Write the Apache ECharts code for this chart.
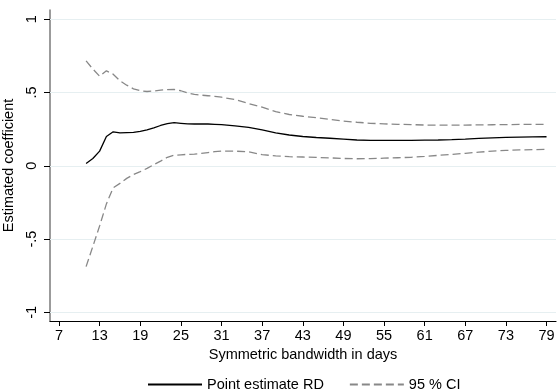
<!DOCTYPE html>
<html>
<head>
<meta charset="utf-8">
<script src="https://cdn.jsdelivr.net/npm/echarts@6/dist/echarts.min.js"></script>
<style>
  html, body { margin: 0; padding: 0; background: #fff; }
  #chart { width: 557px; height: 392px; }
</style>
</head>
<body>
<div id="chart"></div>
<script>
// Bandwidth (days) at which each estimate is shown
const bandwidth = [11, 12, 13, 14, 15, 16, 17, 18, 19, 20, 21, 22, 23, 24, 25, 26, 27, 28, 29, 30,
  31, 33, 35, 37, 39, 41, 43, 45, 47, 49, 51, 53, 55, 57, 59, 61, 63, 65, 67, 69, 71, 73, 75, 77, 79];

// RD point estimate
const pointEstimate = [0.016, 0.05, 0.10, 0.20, 0.232, 0.224, 0.226, 0.228, 0.235, 0.245, 0.258, 0.275, 0.288, 0.294, 0.290, 0.286, 0.285, 0.286, 0.285, 0.283,
  0.281, 0.272, 0.262, 0.245, 0.225, 0.210, 0.200, 0.193, 0.188, 0.182, 0.176, 0.174, 0.174, 0.174, 0.174, 0.175, 0.176, 0.178, 0.182, 0.187, 0.191, 0.194, 0.196, 0.197, 0.198];

// 95 % confidence interval bounds
const ciUpper = [0.716, 0.66, 0.611, 0.648, 0.625, 0.58, 0.55, 0.525, 0.512, 0.507, 0.51, 0.516, 0.52, 0.521, 0.512, 0.497, 0.488, 0.482, 0.478, 0.474,
  0.468, 0.452, 0.425, 0.40, 0.37, 0.35, 0.338, 0.328, 0.316, 0.305, 0.297, 0.29, 0.286, 0.283, 0.281, 0.278, 0.277, 0.277, 0.278, 0.279, 0.28, 0.281, 0.282, 0.282, 0.282];
const ciLower = [-0.688, -0.55, -0.41, -0.26, -0.15, -0.12, -0.086, -0.06, -0.04, -0.018, 0.008, 0.032, 0.058, 0.072, 0.075, 0.078, 0.08, 0.084, 0.09, 0.096,
  0.10, 0.10, 0.095, 0.076, 0.068, 0.062, 0.06, 0.057, 0.054, 0.05, 0.048, 0.049, 0.052, 0.055, 0.058, 0.064, 0.071, 0.078, 0.085, 0.093, 0.10, 0.105, 0.108, 0.11, 0.112];

// Axis tick labels
const xTicks = [7, 13, 19, 25, 31, 37, 43, 49, 55, 61, 67, 73, 79];
const yTicks = [-1, -0.5, 0, 0.5, 1];

const pairs = (ys) => bandwidth.map((x, i) => [x, ys[i]]);
const fmtY = (v) => {
  if (v === 0) return '0';
  const s = String(v);
  return s.replace(/^(-?)0\./, '$1.');
};

const FONT = '"Liberation Sans", Arial, sans-serif';
const chart = echarts.init(document.getElementById('chart'), null, { renderer: 'canvas' });

chart.setOption({
  animation: false,
  backgroundColor: '#ffffff',
  textStyle: { fontFamily: FONT },
  grid: { left: 50, right: 1, top: 10, bottom: 71, containLabel: false, outerBoundsMode: 'none' },
  xAxis: {
    type: 'value',
    min: 5.67,
    max: 80.4,
    name: 'Symmetric bandwidth in days',
    nameLocation: 'middle',
    nameGap: 17,
    nameTextStyle: { fontFamily: FONT, fontSize: 14.5, color: '#000', verticalAlign: 'top' },
    axisLine: { show: true, onZero: false, lineStyle: { color: '#000', width: 1.2 } },
    axisTick: { show: true, length: 5, customValues: xTicks, lineStyle: { color: '#000', width: 1 } },
    axisLabel: { customValues: xTicks, fontFamily: FONT, fontSize: 14.5, color: '#000', margin: 7 },
    splitLine: { show: false }
  },
  yAxis: {
    type: 'value',
    min: -1.059,
    max: 1.063,
    name: 'Estimated coefficient',
    nameLocation: 'middle',
    nameGap: 26,
    nameTextStyle: { fontFamily: FONT, fontSize: 14.5, color: '#000' },
    axisLine: { show: true, onZero: false, lineStyle: { color: '#7a7a7a', width: 1.5 } },
    axisTick: { show: true, length: 6, customValues: yTicks, lineStyle: { color: '#000', width: 1 } },
    axisLabel: { customValues: yTicks, rotate: 90, fontFamily: FONT, fontSize: 14.5, color: '#000', margin: 11, formatter: fmtY },
    splitLine: { show: false }
  },
  legend: {
    left: 142,
    top: 372,
    itemWidth: 54,
    itemHeight: 14,
    itemGap: 25,
    itemTextGap: 9,
    itemStyle: { opacity: 0 },
    textStyle: { fontFamily: FONT, fontSize: 14.5, color: '#000' },
    data: ['Point estimate RD', '95 % CI']
  },
  series: [
    {
      name: 'Point estimate RD',
      type: 'line',
      symbol: 'none',
      data: pairs(pointEstimate),
      lineStyle: { color: '#000', width: 1.3 },
      itemStyle: { color: '#000' },
      z: 3,
      markLine: {
        silent: true,
        symbol: 'none',
        label: { show: false },
        lineStyle: { color: '#e6eff1', width: 1, type: 'solid' },
        data: yTicks.map((v) => ({ yAxis: v })),
        z: 1
      }
    },
    {
      name: '95 % CI',
      type: 'line',
      symbol: 'none',
      data: pairs(ciUpper),
      lineStyle: { color: '#888', width: 1.3, type: [8, 4] },
      itemStyle: { color: '#888' },
      z: 2
    },
    {
      name: '95 % CI',
      type: 'line',
      symbol: 'none',
      data: pairs(ciLower),
      lineStyle: { color: '#888', width: 1.3, type: [8, 4] },
      itemStyle: { color: '#888' },
      z: 2
    }
  ]
});
</script>
</body>
</html>
